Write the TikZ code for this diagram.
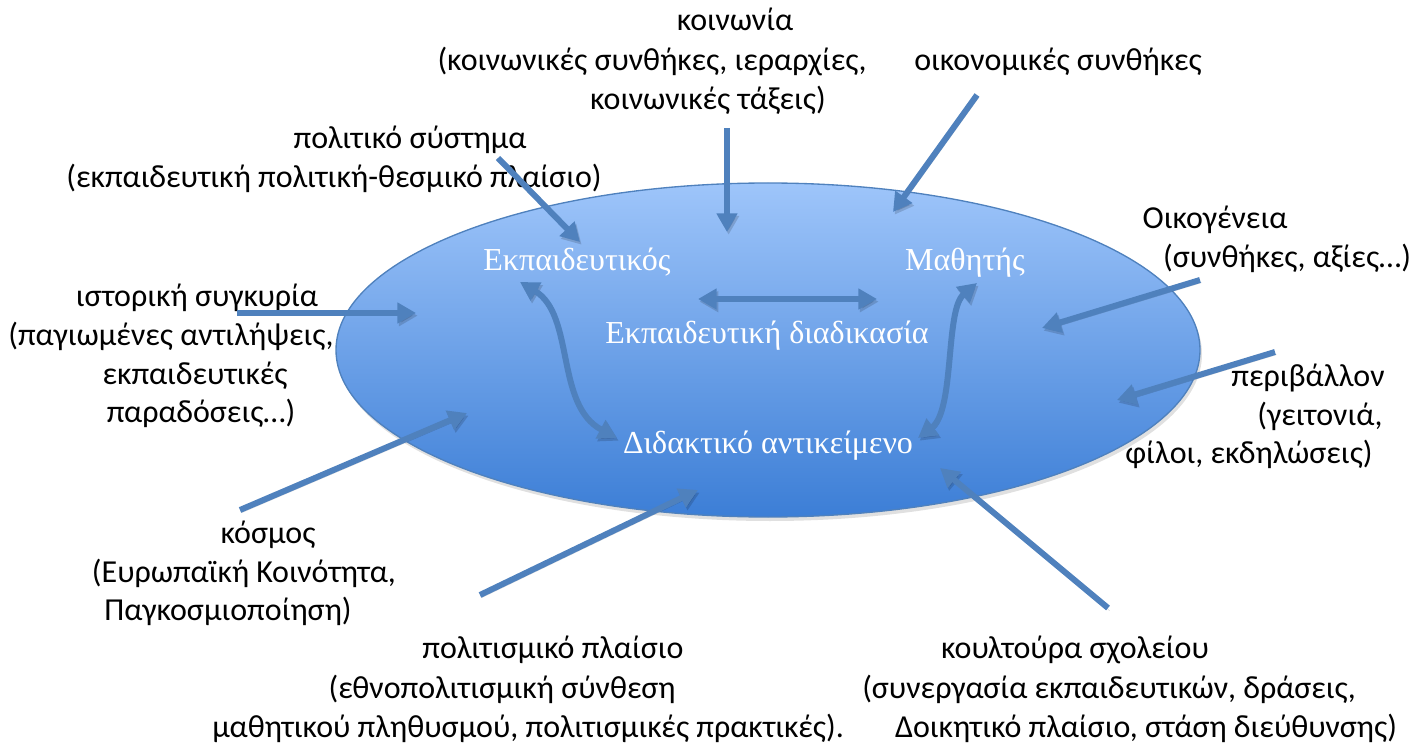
\documentclass[tikz,border=0pt]{standalone}
\usepackage{fontspec}
\setmainfont{Carlito}
\newfontfamily\serifgr{Liberation Serif}
\usetikzlibrary{arrows.meta,shapes.geometric}
\definecolor{arrowblue}{RGB}{79,129,189}
\definecolor{elltop}{RGB}{158,197,250}
\definecolor{ellbot}{RGB}{60,126,214}
\begin{document}
\begin{tikzpicture}[x=0.75pt,y=-0.75pt,
  lbl/.style={anchor=base, font=\fontsize{24}{29}\selectfont, inner sep=0pt},
  inlbl/.style={anchor=base, text=white, font=\serifgr\fontsize{24}{29}\selectfont, inner sep=0pt},
  shad/.style={preaction={draw=black, opacity=0.15, transform canvas={shift={(1.2pt,-2pt)}}}},
  arr/.style={draw=arrowblue, line width=4.5pt, -{Triangle[length=14pt,width=15pt]}},
  darr/.style={draw=arrowblue, line width=4.5pt, {Triangle[length=14pt,width=15pt]}-{Triangle[length=14pt,width=15pt]}}
]
\useasboundingbox (0,0) rectangle (1421,745);
% ellipse
\fill[black, opacity=0.12] (770,354) ellipse [x radius=324pt, y radius=125.25pt];
\node (ell) [ellipse, draw=arrowblue, line width=1pt, top color=elltop, bottom color=ellbot,
  minimum width=648pt, minimum height=250.5pt, inner sep=0pt] at (768,350) {};

% inner labels
\node[inlbl] (teach) at (577,271) {Εκπαιδευτικός};
\node[inlbl] (stud) at (965,271) {Μαθητής};
\node[inlbl] (proc) at (767,344) {Εκπαιδευτική διαδικασία};
\node[inlbl] (subj) at (768,453) {Διδακτικό αντικείμενο};

% outer labels
\node[lbl] (k1) at (735,31) {κοινωνία};
\node[lbl] (k2) at (652,71) {(κοινωνικές συνθήκες, ιεραρχίες,};
\node[lbl] (k3) at (708,110) {κοινωνικές τάξεις)};
\node[lbl] (o1) at (1058,71) {οικονομικές συνθήκες};
\node[lbl] (p1) at (410,149) {πολιτικό σύστημα};
\node[lbl] (p2) at (334,188) {(εκπαιδευτική πολιτική-θεσμικό πλαίσιο)};
\node[lbl] (f1) at (1215,229) {Οικογένεια};
\node[lbl] (f2) at (1287,268) {(συνθήκες, αξίες…)};
\node[lbl] (h1) at (197,307) {ιστορική συγκυρία};
\node[lbl] (h2) at (171,345) {(παγιωμένες αντιλήψεις,};
\node[lbl] (h3) at (195,384) {εκπαιδευτικές};
\node[lbl] (h4) at (201,422) {παραδόσεις…)};
\node[lbl] (e1) at (1308,386) {περιβάλλον};
\node[lbl] (e2) at (1320,425) {(γειτονιά,};
\node[lbl] (e3) at (1249,463) {φίλοι, εκδηλώσεις)};
\node[lbl] (w1) at (268,543) {κόσμος};
\node[lbl] (w2) at (244,582) {(Ευρωπαϊκή Κοινότητα,};
\node[lbl] (w3) at (228,620) {Παγκοσμιοποίηση)};
\node[lbl] (c1) at (553,658) {πολιτισμικό πλαίσιο};
\node[lbl] (c2) at (502,698) {(εθνοπολιτισμική σύνθεση};
\node[lbl] (c3) at (528,737) {μαθητικού πληθυσμού, πολιτισμικές πρακτικές).};
\node[lbl] (s1) at (1075,658) {κουλτούρα σχολείου};
\node[lbl] (s2) at (1109,698) {(συνεργασία εκπαιδευτικών, δράσεις,};
\node[lbl] (s3) at (1146,737) {Δοικητικό πλαίσιο, στάση διεύθυνσης)};

% arrow end points
\coordinate (a1s) at (498,158); \coordinate (a1e) at (580,242);
\coordinate (a2s) at (727,128); \coordinate (a2e) at (727,232);
\coordinate (a3s) at (977,95);  \coordinate (a3e) at (893,212);
\coordinate (a4s) at (1200,280); \coordinate (a4e) at (1042,328);
\coordinate (a5s) at (1275,352); \coordinate (a5e) at (1117,400);
\coordinate (a6s) at (237,313); \coordinate (a6e) at (416,313);
\coordinate (a7s) at (240,510); \coordinate (a7e) at (467,413);
\coordinate (a8s) at (480,595); \coordinate (a8e) at (698,490);
\coordinate (a9s) at (1108,608); \coordinate (a9e) at (940,468);
\coordinate (hL) at (698,299); \coordinate (hR) at (877,299);
\coordinate (lT) at (520,282); \coordinate (lB) at (617,438);
\coordinate (rT) at (977,283); \coordinate (rB) at (918,438);

% outer arrows
\foreach \i in {1,...,9} {\draw[arr, shad] (a\i s) -- (a\i e);}

% inner arrows
\draw[darr, shad] (hL) -- (hR);
\draw[darr, shad] (lT) .. controls (575,315) and (555,405) .. (lB);
\draw[darr, shad] (rT) .. controls (945,310) and (955,410) .. (rB);
\end{tikzpicture}
\end{document}
